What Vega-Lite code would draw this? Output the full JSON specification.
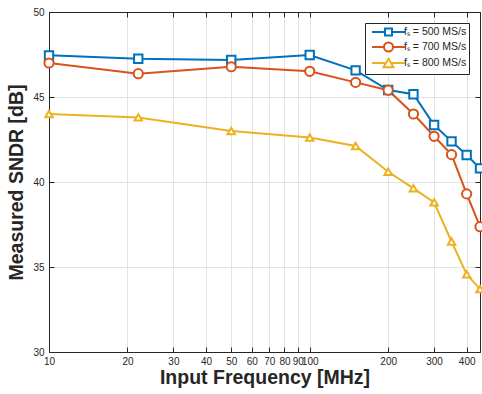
{
  "$schema": "https://vega.github.io/schema/vega-lite/v6.json",
  "width": 431,
  "height": 340,
  "autosize": {"type": "none"},
  "padding": {"left": 49, "top": 12, "right": 2, "bottom": 42},
  "background": "white",
  "config": {
    "font": "Liberation Sans",
    "view": {"stroke": "#262626", "strokeWidth": 1},
    "axis": {
      "domainColor": "#262626",
      "tickColor": "#262626",
      "labelColor": "#262626",
      "labelFont": "Liberation Sans",
      "labelFontSize": 10,
      "titleFont": "Liberation Sans",
      "titleFontSize": 19.5,
      "titleFontWeight": "bold",
      "titleColor": "#262626",
      "gridColor": "#e3e3e3",
      "gridWidth": 1
    },
    "legend": {
      "labelFont": "Liberation Sans",
      "labelFontSize": 10.5,
      "labelColor": "#262626"
    }
  },
  "data": {
    "values": [
      {"series": "fₛ = 500 MS/s", "freq": 10, "sndr": 47.45},
      {"series": "fₛ = 500 MS/s", "freq": 22, "sndr": 47.25},
      {"series": "fₛ = 500 MS/s", "freq": 50, "sndr": 47.18},
      {"series": "fₛ = 500 MS/s", "freq": 100, "sndr": 47.47},
      {"series": "fₛ = 500 MS/s", "freq": 150, "sndr": 46.57},
      {"series": "fₛ = 500 MS/s", "freq": 200, "sndr": 45.41},
      {"series": "fₛ = 500 MS/s", "freq": 250, "sndr": 45.16},
      {"series": "fₛ = 500 MS/s", "freq": 300, "sndr": 43.35},
      {"series": "fₛ = 500 MS/s", "freq": 350, "sndr": 42.39},
      {"series": "fₛ = 500 MS/s", "freq": 400, "sndr": 41.59},
      {"series": "fₛ = 500 MS/s", "freq": 450, "sndr": 40.8},
      {"series": "fₛ = 700 MS/s", "freq": 10, "sndr": 47.0},
      {"series": "fₛ = 700 MS/s", "freq": 22, "sndr": 46.37},
      {"series": "fₛ = 700 MS/s", "freq": 50, "sndr": 46.78},
      {"series": "fₛ = 700 MS/s", "freq": 100, "sndr": 46.51},
      {"series": "fₛ = 700 MS/s", "freq": 150, "sndr": 45.86},
      {"series": "fₛ = 700 MS/s", "freq": 200, "sndr": 45.4},
      {"series": "fₛ = 700 MS/s", "freq": 250, "sndr": 44.0},
      {"series": "fₛ = 700 MS/s", "freq": 300, "sndr": 42.69},
      {"series": "fₛ = 700 MS/s", "freq": 350, "sndr": 41.61},
      {"series": "fₛ = 700 MS/s", "freq": 400, "sndr": 39.3},
      {"series": "fₛ = 700 MS/s", "freq": 450, "sndr": 37.37},
      {"series": "fₛ = 800 MS/s", "freq": 10, "sndr": 44.0},
      {"series": "fₛ = 800 MS/s", "freq": 22, "sndr": 43.8},
      {"series": "fₛ = 800 MS/s", "freq": 50, "sndr": 43.0},
      {"series": "fₛ = 800 MS/s", "freq": 100, "sndr": 42.62},
      {"series": "fₛ = 800 MS/s", "freq": 150, "sndr": 42.12},
      {"series": "fₛ = 800 MS/s", "freq": 200, "sndr": 40.6},
      {"series": "fₛ = 800 MS/s", "freq": 250, "sndr": 39.63},
      {"series": "fₛ = 800 MS/s", "freq": 300, "sndr": 38.8},
      {"series": "fₛ = 800 MS/s", "freq": 350, "sndr": 36.5},
      {"series": "fₛ = 800 MS/s", "freq": 400, "sndr": 34.57},
      {"series": "fₛ = 800 MS/s", "freq": 450, "sndr": 33.7}
    ]
  },
  "layer": [
    {
      "mark": {"type": "line", "strokeWidth": 2},
      "encoding": {
        "x": {
          "field": "freq", "type": "quantitative",
          "scale": {"type": "log", "domain": [10, 450], "nice": false},
          "axis": {
            "orient": "bottom",
            "values": [10, 20, 30, 40, 50, 60, 70, 80, 90, 100, 200, 300, 400],
            "labelOverlap": false,
            "labelFlush": false,
            "tickSize": -5,
            "labelPadding": 9,
            "grid": true,
            "title": "Input Frequency [MHz]",
            "titlePadding": 2
          }
        },
        "y": {
          "field": "sndr", "type": "quantitative",
          "scale": {"domain": [30, 50], "nice": false, "zero": false},
          "axis": {
            "orient": "left",
            "values": [30, 35, 40, 45, 50],
            "tickSize": -5,
            "labelPadding": 10,
            "grid": true,
            "title": "Measured SNDR [dB]",
            "titlePadding": 6
          }
        },
        "color": {
          "field": "series", "type": "nominal",
          "scale": {"domain": ["fₛ = 500 MS/s", "fₛ = 700 MS/s", "fₛ = 800 MS/s"], "range": ["#0072BD", "#D95319", "#EDB120"]},
          "legend": {
            "title": null,
            "orient": "top-right",
            "offset": 11,
            "strokeColor": "#262626",
            "fillColor": "white",
            "padding": 2,
            "symbolOffset": 4,
            "symbolSize": 144,
            "labelOffset": 19,
            "rowPadding": -2,
            "symbolStrokeWidth": 2,
            "symbolFillColor": "white",
            "encode": {
              "symbols": {
                "update": {
                  "shape": {"signal": "datum.index === 0 ? 'M-1,0H1.167M2.333,0H4.5M1.167,-0.583H2.333V0.583H1.167Z' : datum.index === 1 ? 'M-1,0H1M2.5,0H4.5M1,0A0.75,0.75,0,1,0,2.5,0A0.75,0.75,0,1,0,1,0Z' : 'M-1,0H1.333M2.167,0H4.5M1.75,-0.722L0.917,0.722H2.583Z'"},
                  "fill": {"value": "white"},
                  "strokeWidth": {"value": 2}
                }
              }
            }
          }
        }
      }
    },
    {
      "mark": {"type": "point", "filled": false, "fill": "white", "strokeWidth": 2, "opacity": 1},
      "encoding": {
        "x": {
          "field": "freq", "type": "quantitative",
          "axis": {
            "orient": "top",
            "values": [10, 20, 30, 40, 50, 60, 70, 80, 90, 100, 200, 300, 400],
            "labels": false, "grid": false, "tickSize": -5, "title": null
          }
        },
        "y": {
          "field": "sndr", "type": "quantitative",
          "axis": {
            "orient": "right",
            "values": [30, 35, 40, 45, 50],
            "labels": false, "grid": false, "tickSize": -5, "title": null
          }
        },
        "color": {
          "field": "series", "type": "nominal",
          "legend": {
            "title": null,
            "orient": "top-right",
            "offset": 11,
            "strokeColor": "#262626",
            "fillColor": "white",
            "padding": 2,
            "symbolOffset": 4,
            "symbolSize": 144,
            "labelOffset": 19,
            "rowPadding": -2,
            "symbolStrokeWidth": 2,
            "symbolFillColor": "white",
            "encode": {
              "symbols": {
                "update": {
                  "shape": {"signal": "datum.index === 0 ? 'M-1,0H1.167M2.333,0H4.5M1.167,-0.583H2.333V0.583H1.167Z' : datum.index === 1 ? 'M-1,0H1M2.5,0H4.5M1,0A0.75,0.75,0,1,0,2.5,0A0.75,0.75,0,1,0,1,0Z' : 'M-1,0H1.333M2.167,0H4.5M1.75,-0.722L0.917,0.722H2.583Z'"},
                  "fill": {"value": "white"},
                  "strokeWidth": {"value": 2}
                }
              }
            }
          }
        },
        "shape": {
          "field": "series", "type": "nominal",
          "scale": {"domain": ["fₛ = 700 MS/s", "fₛ = 500 MS/s", "fₛ = 800 MS/s"], "range": ["circle", "square", "triangle-up"]},
          "legend": null
        },
        "size": {
          "field": "series", "type": "nominal",
          "scale": {"domain": ["fₛ = 700 MS/s", "fₛ = 500 MS/s", "fₛ = 800 MS/s"], "range": [85, 55, 110]},
          "legend": null
        }
      }
    }
  ],
  "resolve": {"axis": {"x": "independent", "y": "independent"}}
}
